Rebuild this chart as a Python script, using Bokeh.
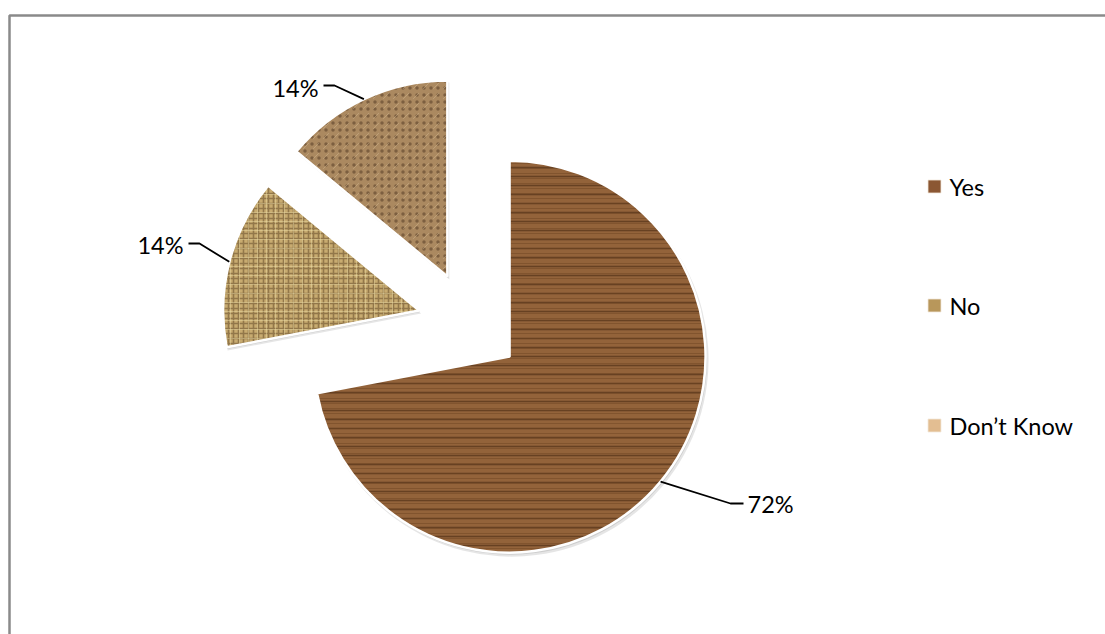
import math
from bokeh.plotting import figure
from bokeh.models import Range1d
from bokeh.embed import file_html
from bokeh.resources import INLINE
from bokeh.core.properties import value

# ---- data ----
categories = ["Yes", "No", "Don\u2019t Know"]
values = [72, 14, 14]
labels = ["72%", "14%", "14%"]

# ---- layout constants (screen pixels, y downward) ----
W, H = 1105, 634
CX, CY = 469, 323          # pie centre (before explosion)
R = 196                    # radius
EXPLODE = 52               # explosion distance
FONT = "Lato"
FSIZE = "23.5px"

def Y(sy):
    return H - sy

# styles per slice
base_fill = ["#93633A", "#C8AB70", "#AB8960"]
hatch1 = ["horizontal_line", "cross", "dot"]
hatch1_color = ["#4A2A12", "#6E5530", "#5E432B"]
hatch1_scale = [9, 5, 7]
hatch2 = ["horizontal_line", "cross", "right_diagonal_dash"]
hatch2_color = ["#6B4220", "#EEDDA6", "#D8BE98"]
hatch2_scale = [5, 9, 10]
legend_fill = ["#8B5733", "#B8975B", "#E3BE92"]

# leader elbows / ends / text anchors (screen coords)
elbows = [(730, 503), (199, 243), (334, 85)]
ends = [(743, 503), (188, 243), (323, 85)]
text_pos = [(747, 503), (183, 244), (318, 87)]
text_align = ["left", "right", "right"]
legend_y = [186, 305, 425]

p = figure(width=W, height=H, x_range=Range1d(0, W), y_range=Range1d(0, H),
           output_backend="svg", toolbar_location=None, min_border=0,
           x_axis_location=None, y_axis_location=None)
p.grid.visible = False
p.outline_line_color = None
p.background_fill_color = "white"
p.border_fill_color = "white"

# frame of the chart area
p.line(x=[9, 9, W + 10], y=[-10, Y(15), Y(15)], line_color="#8A8A8A", line_width=2.5)

total = float(sum(values))
cum = 0.0
for i, v in enumerate(values):
    f0 = cum / total
    f1 = (cum + v) / total
    cum += v
    start = math.radians(90 - 360 * f1)
    end = math.radians(90 - 360 * f0)
    mid = math.radians(90 - 360 * (f0 + f1) / 2)
    cx = CX + EXPLODE * math.cos(mid)
    cy = Y(CY) + EXPLODE * math.sin(mid)
    # soft shadow
    p.wedge(x=cx + 2, y=cy - 3, radius=R + 1, start_angle=start, end_angle=end,
            fill_color="black", fill_alpha=0.10, line_color=None)
    p.wedge(x=cx + 1, y=cy - 1.5, radius=R + 0.5, start_angle=start, end_angle=end,
            fill_color="black", fill_alpha=0.10, line_color=None)
    # textured slice
    p.wedge(x=cx, y=cy, radius=R, start_angle=start, end_angle=end,
            fill_color=base_fill[i], line_color=None,
            hatch_pattern=hatch1[i], hatch_color=hatch1_color[i],
            hatch_alpha=0.6, hatch_scale=hatch1_scale[i], hatch_weight=1.6)
    p.wedge(x=cx, y=cy, radius=R, start_angle=start, end_angle=end,
            fill_alpha=0, line_color="white", line_width=2.5,
            hatch_pattern=hatch2[i], hatch_color=hatch2_color[i],
            hatch_alpha=0.45, hatch_scale=hatch2_scale[i], hatch_weight=1.0)
    # leader line from arc midpoint
    ax = cx + R * math.cos(mid)
    ay = cy + R * math.sin(mid)
    ex, ey = elbows[i]
    nx, ny = ends[i]
    p.line(x=[ax, ex, nx], y=[ay, Y(ey), Y(ny)], line_color="black", line_width=1.8)
    tx, ty = text_pos[i]
    p.text(x=[tx], y=[Y(ty)], text=[labels[i]], text_font=value(FONT),
           text_font_size=FSIZE, text_align=text_align[i],
           text_baseline="alphabetic", text_color="black")

# legend
for i, c in enumerate(categories):
    p.rect(x=[934], y=[Y(legend_y[i])], width=13, height=13,
           fill_color=legend_fill[i], line_color="#F2E8DC", line_width=0.8)
    p.text(x=[949], y=[Y(legend_y[i])], text=[c], text_font=value(FONT),
           text_font_size=FSIZE, text_align="left", text_baseline="middle",
           text_color="black")

open("out.html", "w").write(file_html(p, INLINE))
